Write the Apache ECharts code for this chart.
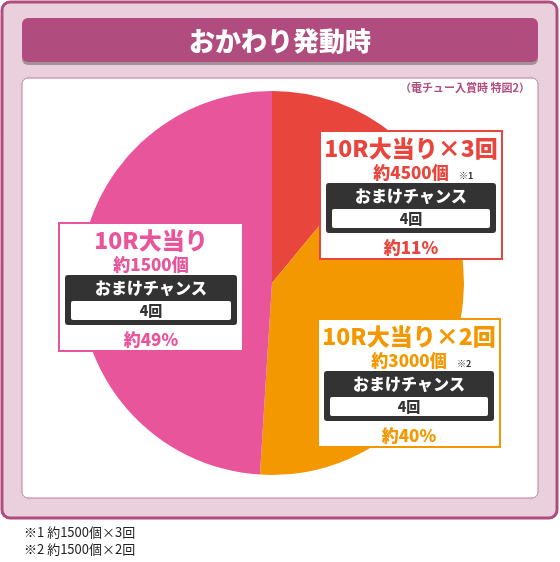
<!DOCTYPE html><html><head><meta charset="utf-8"><script src="https://cdn.jsdelivr.net/npm/echarts@6/dist/echarts.min.js"></script>
<style>body{margin:0}#c{width:560px;height:562px}</style></head><body><div id="c"></div><script>
const categories=['10R大当り×3回','10R大当り×2回','10R大当り'];
const values=[11,40,49];
const payouts=['約4500個','約3000個','約1500個'];
const notes=['※1','※2',''];
const bonus=['4回','4回','4回'];
const colors=['#e8463d','#f39800','#e8559b'];
const F='"Noto Sans CJK JP"';
const chart=echarts.init(document.getElementById('c'));
function box(i,x,y,w){
  const c=colors[i],cx=x+w/2,els=[];
  els.push({type:'rect',shape:{x:x,y:y,width:w,height:128},style:{fill:'#fff',stroke:c,lineWidth:2}});
  els.push({type:'text',style:{x:cx,y:y+17,text:categories[i],fill:c,font:'900 23px '+F,align:'center',verticalAlign:'middle'}});
  els.push({type:'text',style:{x:cx,y:y+42,text:payouts[i],fill:c,font:'900 17px '+F,align:'center',verticalAlign:'middle'}});
  if(notes[i])els.push({type:'text',style:{x:cx+48,y:y+45,text:notes[i],fill:'#333',font:'bold 9px '+F,align:'left',verticalAlign:'middle'}});
  els.push({type:'rect',shape:{x:x+6,y:y+52,width:w-12,height:50,r:3},style:{fill:'#333'}});
  els.push({type:'text',style:{x:cx,y:y+65,text:'おまけチャンス',fill:'#fff',font:'900 16px '+F,align:'center',verticalAlign:'middle'}});
  els.push({type:'rect',shape:{x:x+12,y:y+78,width:w-24,height:19,r:2},style:{fill:'#fff'}});
  els.push({type:'text',style:{x:cx,y:y+88,text:bonus[i],fill:'#333',font:'900 14px '+F,align:'center',verticalAlign:'middle'}});
  els.push({type:'text',style:{x:cx,y:y+117,text:'約'+values[i]+'%',fill:c,font:'900 17px '+F,align:'center',verticalAlign:'middle'}});
  return els;
}
chart.setOption({
  animation:false,
  graphic:[
    {type:'rect',z:-10,shape:{x:2,y:2,width:555,height:516,r:8},style:{fill:'#ead0dc',stroke:'#b04d7e',lineWidth:3}},
    {type:'rect',z:-9,shape:{x:22,y:18,width:516,height:44,r:6},style:{fill:'#b04d7e',shadowColor:'rgba(0,0,0,0.3)',shadowOffsetY:3}},
    {type:'text',z:-8,style:{x:280,y:41,text:'おかわり発動時',fill:'#fff',font:'900 26px '+F,align:'center',verticalAlign:'middle'}},
    {type:'rect',z:-9,shape:{x:22,y:78,width:516,height:420,r:6},style:{fill:'#fff',stroke:'#c47a9d',lineWidth:1}},
    {type:'text',z:-8,style:{x:530,y:88,text:'（電チュー入賞時 特図2）',fill:'#b04d7e',font:'bold 11px '+F,align:'right',verticalAlign:'middle'}},
    {type:'text',style:{x:24,y:532,text:'※1 約1500個×3回',fill:'#222',font:'13px '+F,verticalAlign:'middle'}},
    {type:'text',style:{x:24,y:549,text:'※2 約1500個×2回',fill:'#222',font:'13px '+F,verticalAlign:'middle'}},
    ...box(0,320,131,182).map(e=>Object.assign(e,{z:10})),
    ...box(1,318,319,182).map(e=>Object.assign(e,{z:10})),
    ...box(2,59,223,184).map(e=>Object.assign(e,{z:10}))
  ],
  series:[{type:'pie',center:[272,283],radius:[0,192],startAngle:90,clockwise:true,label:{show:false},labelLine:{show:false},silent:true,
    data:categories.map((n,i)=>({name:n,value:values[i],itemStyle:{color:colors[i]}}))}]
});
</script></body></html>
